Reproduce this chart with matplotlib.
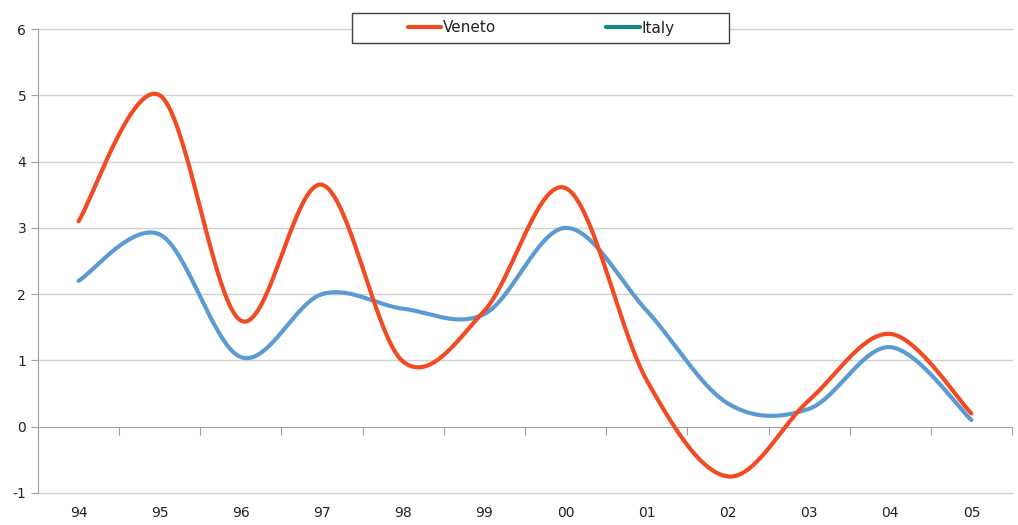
import numpy as np
import matplotlib
matplotlib.use('Agg')
import matplotlib.pyplot as plt
from matplotlib.patches import Rectangle
from matplotlib.lines import Line2D

years = ['94', '95', '96', '97', '98', '99', '00', '01', '02', '03', '04', '05']
veneto = [3.1, 5.0, 1.6, 3.65, 0.98, 1.75, 3.6, 0.7, -0.75, 0.4, 1.4, 0.2]
italy = [2.2, 2.9, 1.05, 2.0, 1.78, 1.7, 3.0, 1.75, 0.35, 0.27, 1.2, 0.1]

col_veneto = '#f14b23'
col_italy = '#5b9bd2'
col_italy_legend = '#13877f'


def smooth(x, y, n=40):
    # catmull-rom style bezier, like excel's smoothed lines
    x = np.asarray(x, float)
    y = np.asarray(y, float)
    px = np.concatenate([[x[0]], x, [x[-1]]])
    py = np.concatenate([[y[0]], y, [y[-1]]])
    t = np.linspace(0, 1, n)
    xs, ys = [], []
    for i in range(1, len(px) - 2):
        p0 = np.array([px[i], py[i]])
        p3 = np.array([px[i + 1], py[i + 1]])
        c1 = p0 + (p3 - np.array([px[i - 1], py[i - 1]])) / 6
        c2 = p3 - (np.array([px[i + 2], py[i + 2]]) - p0) / 6
        b = ((1 - t) ** 3)[:, None] * p0 + (3 * (1 - t) ** 2 * t)[:, None] * c1 \
            + (3 * (1 - t) * t ** 2)[:, None] * c2 + (t ** 3)[:, None] * p3
        xs.append(b[:, 0])
        ys.append(b[:, 1])
    return np.concatenate(xs), np.concatenate(ys)


plt.rcParams['font.family'] = 'DejaVu Sans'
plt.rcParams['axes.unicode_minus'] = False
fig = plt.figure(figsize=(10.18, 5.25), dpi=100)
ax = fig.add_axes([38 / 1018, 32 / 525, 974 / 1018, 464 / 525])

xpos = np.arange(len(years))
ax.set_xlim(-0.5, len(years) - 0.5)
ax.set_ylim(-1, 6)

for v in range(-1, 7):
    if v != 0:
        ax.axhline(v, color='#d0d0d0', lw=1, zorder=0, clip_on=False)

ax.plot(*smooth(xpos, veneto), color=col_veneto, lw=3, solid_capstyle='round', zorder=3)
ax.plot(*smooth(xpos, italy), color=col_italy, lw=3, solid_capstyle='round', zorder=2)

# axes
for s in ['top', 'right']:
    ax.spines[s].set_visible(False)
ax.spines['left'].set_color('#a0a0a0')
ax.spines['bottom'].set_position(('data', 0))
ax.spines['bottom'].set_color('#a0a0a0')
ax.set_yticks(range(-1, 7))
ax.tick_params(axis='y', colors='#a0a0a0', labelcolor='#222222', length=5, labelsize=10)
ax.set_xticks(np.arange(-0.5, len(years), 1.0))
ax.set_xticklabels([])
ax.tick_params(axis='x', colors='#a0a0a0', length=6, direction='out')

for i, lab in enumerate(years):
    ax.text(i, -1.2, lab, ha='center', va='top', fontsize=10, color='#222222')

# legend box
fig.patches.append(Rectangle((352 / 1018, 1 - 43 / 525), 377 / 1018, 30 / 525,
                             transform=fig.transFigure, fill=True, facecolor='white',
                             edgecolor='#404040', lw=1, zorder=5))
handles = [Line2D([], [], color=col_veneto, lw=3, solid_capstyle='round'),
           Line2D([], [], color=col_italy_legend, lw=3, solid_capstyle='round')]
leg = fig.legend(handles, ['Veneto', 'Italy'], loc='center', ncol=2,
                 bbox_to_anchor=(541 / 1018, 1 - 28 / 525), frameon=False,
                 fontsize=11, handlelength=2.2, handletextpad=0.1, columnspacing=7.2)
leg.set_zorder(6)
for t in leg.get_texts():
    t.set_color('#222222')

fig.savefig('out.png', dpi=100)
